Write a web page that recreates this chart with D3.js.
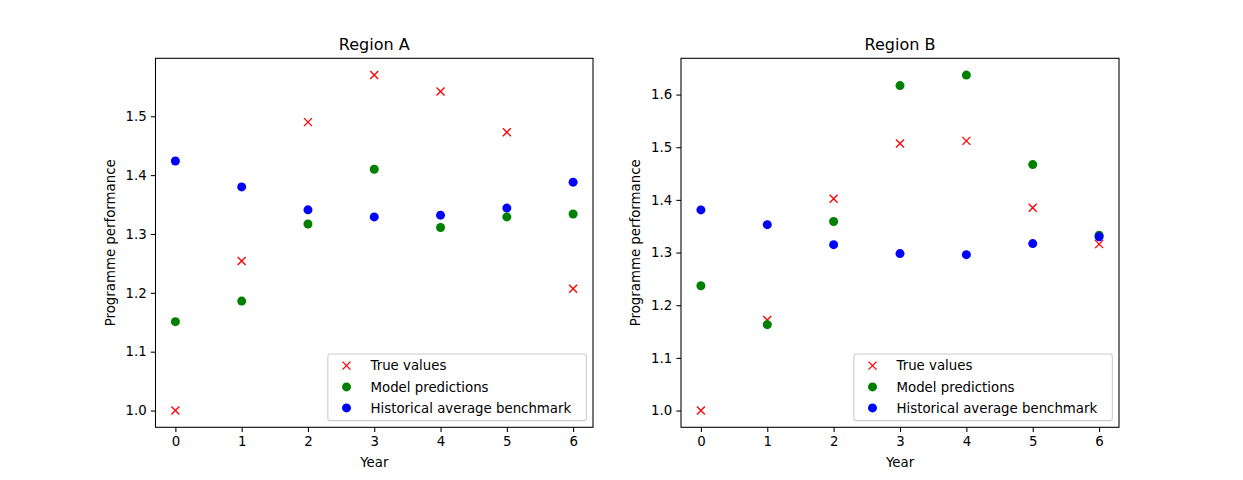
<!DOCTYPE html>
<html><head><meta charset="utf-8">
<script src="https://cdn.jsdelivr.net/npm/d3@7"></script>
<style>
body{margin:0;background:#fff;}
text{font-family:"DejaVu Sans",sans-serif;}
</style></head>
<body><svg id="chart" width="1243" height="480"></svg>
<script>
const years = [0,1,2,3,4,5,6];
const regionNames = ["Region A","Region B"];
const trueA  = [1.000,1.254,1.490,1.570,1.542,1.473,1.207];
const modelA = [1.151,1.186,1.317,1.410,1.311,1.329,1.334];
const histA  = [1.424,1.380,1.341,1.329,1.332,1.344,1.388];
const trueB  = [1.000,1.172,1.402,1.507,1.512,1.385,1.316];
const modelB = [1.237,1.163,1.359,1.617,1.637,1.467,1.333];
const histB  = [1.381,1.353,1.315,1.298,1.296,1.317,1.330];
const ticksA = [1.0,1.1,1.2,1.3,1.4,1.5];
const ticksB = [1.0,1.1,1.2,1.3,1.4,1.5,1.6];
const seriesLabels = ["True values","Model predictions","Historical average benchmark"];
const seriesColors = ["#ff0000","#008000","#0000ff"];
const seriesMarkers = ["x","o","o"];

const svg = d3.select("#chart");
const panels = [
  {name:regionNames[0], data:[trueA,modelA,histA], ticks:ticksA, left:155.5, right:593},
  {name:regionNames[1], data:[trueB,modelB,histB], ticks:ticksB, left:681, right:1119}
];
const plotTop = 58.3, plotBottom = 427.3;
const fs = 13.33;

panels.forEach(p => {
  const g = svg.append("g");
  const all = p.data.flat();
  const [mn,mx] = d3.extent(all);
  const m = (mx-mn)*0.05;
  const y = d3.scaleLinear().domain([mn-m, mx+m]).range([plotBottom, plotTop]);
  const x = d3.scaleLinear().domain([-0.3, 6.3]).range([p.left, p.right]);

  const xa = g.append("g").attr("transform",`translate(0,${plotBottom})`)
    .call(d3.axisBottom(x).tickValues(years).tickFormat(d3.format("d")).tickSize(4.67).tickPadding(4.2));
  const ya = g.append("g").attr("transform",`translate(${p.left},0)`)
    .call(d3.axisLeft(y).tickValues(p.ticks).tickFormat(d3.format(".1f")).tickSize(4.67).tickPadding(4.2));
  [xa,ya].forEach(a=>{
    a.select(".domain").remove();
    a.selectAll("line").attr("stroke","#000").attr("stroke-width",1.07);
    a.selectAll("text").attr("font-size",fs).attr("font-family","DejaVu Sans").attr("fill","#000");
  });

  p.data.forEach((vals,si) => {
    const pts = g.append("g");
    vals.forEach((v,i) => {
      const cx = x(years[i]), cy = y(v);
      if (seriesMarkers[si] === "x") {
        const s = 4;
        pts.append("path").attr("d",`M${cx-s},${cy-s}L${cx+s},${cy+s}M${cx-s},${cy+s}L${cx+s},${cy-s}`)
          .attr("stroke",seriesColors[si]).attr("stroke-width",1.33).attr("fill","none");
      } else {
        pts.append("circle").attr("cx",cx).attr("cy",cy).attr("r",4.5).attr("fill",seriesColors[si]);
      }
    });
  });

  g.append("rect").attr("x",p.left).attr("y",plotTop).attr("width",p.right-p.left).attr("height",plotBottom-plotTop)
    .attr("fill","none").attr("stroke","#000").attr("stroke-width",1.07);

  g.append("text").attr("x",(p.left+p.right)/2).attr("y",plotTop-8.5).attr("text-anchor","middle")
    .attr("font-size",16).text(p.name);
  g.append("text").attr("x",(p.left+p.right)/2).attr("y",466.5).attr("text-anchor","middle")
    .attr("font-size",fs).text("Year");
  const ylx = p.left-41;
  g.append("text").attr("transform",`translate(${ylx},${(plotTop+plotBottom)/2}) rotate(-90)`)
    .attr("text-anchor","middle").attr("font-size",fs).text("Programme performance");

  const lg = g.append("g");
  const box = lg.append("rect");
  const texts = seriesLabels.map((l,i)=> lg.append("text").attr("font-size",fs).attr("y",0).text(l));
  const tw = d3.max(texts, t=>t.node().getComputedTextLength());
  const bw = Math.max(258.5, 5.33+26.67+10.67+tw+5.33);
  const bh = 66.7;
  const bx = p.right-6.67-bw, by = plotBottom-6.67-bh;
  box.attr("x",bx).attr("y",by).attr("width",bw).attr("height",bh).attr("rx",2.5)
    .attr("fill","#fff").attr("fill-opacity",0.8).attr("stroke","#cccccc").attr("stroke-width",1.07);
  const rows = [by+11.7, by+33, by+54];
  seriesLabels.forEach((l,i)=>{
    const mx2 = bx+5.33+13.33, my = rows[i];
    texts[i].attr("x",bx+5.33+26.67+10.67).attr("y",my+4.8);
    if (seriesMarkers[i]==="x") {
      const s=4;
      lg.append("path").attr("d",`M${mx2-s},${my-s}L${mx2+s},${my+s}M${mx2-s},${my+s}L${mx2+s},${my-s}`)
        .attr("stroke",seriesColors[i]).attr("stroke-width",1.33).attr("fill","none");
    } else {
      lg.append("circle").attr("cx",mx2).attr("cy",my).attr("r",4.5).attr("fill",seriesColors[i]);
    }
  });
});
</script></body></html>
